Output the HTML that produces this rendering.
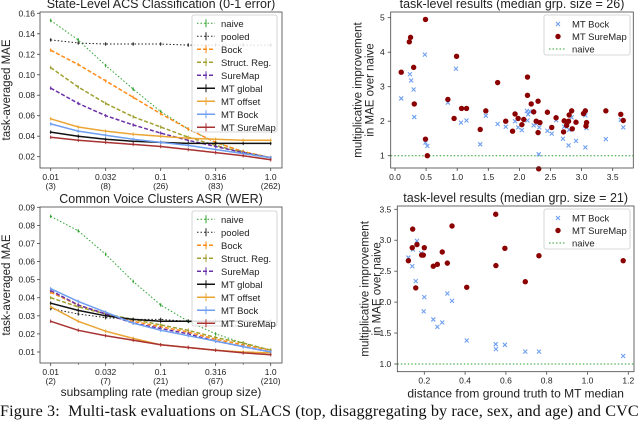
<!DOCTYPE html>
<html><head><meta charset="utf-8"><style>
html,body{margin:0;padding:0;background:#fff;width:640px;height:417px;overflow:hidden}
svg{position:absolute;left:0;top:0}
text{font-family:"Liberation Sans","DejaVu Sans",sans-serif;fill:#222}
#cap{position:absolute;left:0;top:402px;white-space:nowrap;font-family:"Liberation Serif",serif;font-size:16.2px;color:#111;letter-spacing:0.1px}
</style></head><body>
<svg id="chart" width="640" height="417"></svg>
<div id="cap">Figure 3:&nbsp; Multi-task evaluations on SLACS (top, disaggregating by race, sex, and age) and CVC</div>
<script>
// ---------- data ----------
const rates = [0.01,0.0178,0.0316,0.0562,0.1,0.178,0.316,0.562,1.0];
const xTickVals = [0.01,0.0316,0.1,0.316,1.0];
const xTickTop = ["0.01","0.032","0.1","0.316","1.0"];
const acsSizes = ["(3)","(8)","(26)","(83)","(262)"];
const cvcSizes = ["(2)","(7)","(21)","(67)","(210)"];
const seriesNames = ["naive","pooled","Bock","Struct. Reg.","SureMap","MT global","MT offset","MT Bock","MT SureMap"];
const acsNaive = [0.153,0.134,0.109,0.086,0.064,0.047,0.034,0.025,0.019];
const acsPooled = [0.134,0.131,0.130,0.130,0.130,0.129,0.129,0.129,0.129];
const acsBock = [0.124,0.110,0.094,0.078,0.062,0.047,0.034,0.025,0.019];
const acsStruct = [0.107,0.088,0.072,0.059,0.049,0.039,0.031,0.024,0.019];
const acsSure = [0.087,0.072,0.060,0.051,0.043,0.036,0.030,0.024,0.019];
const acsMTglobal = [0.044,0.040,0.037,0.035,0.034,0.033,0.033,0.033,0.033];
const acsMToffset = [0.057,0.049,0.045,0.042,0.040,0.038,0.037,0.036,0.036];
const acsMTbock = [0.052,0.045,0.041,0.037,0.034,0.031,0.027,0.023,0.019];
const acsMTsure = [0.039,0.036,0.034,0.032,0.030,0.027,0.024,0.021,0.017];
const cvcNaive = [0.085,0.077,0.064,0.049,0.036,0.027,0.020,0.015,0.011];
const cvcPooled = [0.034,0.031,0.029,0.028,0.028,0.027,0.027,0.027,0.027];
const cvcBock = [0.043,0.036,0.031,0.027,0.024,0.021,0.017,0.014,0.011];
const cvcStruct = [0.040,0.035,0.031,0.028,0.025,0.022,0.018,0.015,0.011];
const cvcSure = [0.044,0.036,0.031,0.026,0.023,0.020,0.016,0.013,0.010];
const cvcMTglobal = [0.037,0.033,0.030,0.028,0.027,0.027,0.027,0.027,0.027];
const cvcMToffset = [0.035,0.027,0.0215,0.0175,0.014,0.0125,0.011,0.010,0.0095];
const cvcMTbock = [0.045,0.038,0.032,0.026,0.022,0.019,0.016,0.013,0.010];
const cvcMTsure = [0.027,0.022,0.019,0.0165,0.014,0.0125,0.011,0.0095,0.0085];
const acsYTicks = [0.02,0.04,0.06,0.08,0.10,0.12,0.14,0.16];
const cvcYTicks = [0.01,0.02,0.03,0.04,0.05,0.06,0.07,0.08,0.09];
const s1BockX = [0.1,0.24,0.26,0.3,0.31,0.48,0.49,0.52,0.85,0.98,1.06,1.15,1.37,1.46,1.65,1.78,1.93,1.98,2.04,2.12,2.14,2.17,2.13,2.23,2.29,2.32,2.31,2.45,2.52,2.59,2.70,2.72,2.79,2.80,2.84,2.91,3.06,3.06,3.08,3.39,3.63,3.67];
const s1BockY = [2.66,3.36,3.18,2.92,2.12,3.93,1.38,1.28,2.54,3.52,1.96,2.02,1.33,2.16,1.92,1.84,2.0,1.82,1.74,2.30,2.2,2.28,2.02,1.88,1.94,1.82,1.04,1.72,1.64,2.03,1.49,1.84,1.30,1.75,2.11,1.43,1.24,2.17,1.80,1.48,2.04,1.82];
const s1SureX = [0.1,0.23,0.25,0.3,0.31,0.49,0.49,0.52,0.85,0.95,0.99,1.07,1.15,1.37,1.46,1.65,1.78,1.89,1.93,1.98,2.04,2.07,2.13,2.13,2.19,2.23,2.27,2.30,2.30,2.33,2.31,2.45,2.52,2.59,2.71,2.72,2.76,2.79,2.80,2.84,2.85,2.91,3.03,3.06,3.07,3.08,3.39,3.63,3.67];
const s1SureY = [3.42,4.3,4.43,3.56,2.5,4.95,1.48,1.0,2.63,2.08,3.88,2.37,2.37,1.76,2.30,3.12,2.0,1.71,2.21,2.08,1.9,2.05,3.28,2.75,2.5,2.27,2.0,2.58,1.67,1.96,0.62,2.26,1.82,2.1,1.69,2.01,1.88,2.0,2.18,2.3,1.78,1.97,2.22,2.30,1.86,1.96,2.30,2.20,2.02];
const s2BockX = [0.122,0.141,0.144,0.164,0.158,0.185,0.2,0.197,0.244,0.264,0.288,0.313,0.336,0.408,0.55,0.551,0.595,0.695,0.762,1.175];
const s2BockY = [2.72,2.58,2.85,2.99,2.34,2.79,2.08,1.85,1.72,1.60,1.67,2.14,2.02,1.38,1.32,1.24,1.31,1.20,1.20,1.13];
const s2SureX = [0.122,0.143,0.141,0.158,0.164,0.187,0.195,0.2,0.244,0.264,0.288,0.313,0.336,0.408,0.55,0.551,0.595,0.695,0.762,1.175];
const s2SureY = [2.67,3.18,2.88,2.23,2.93,2.76,2.76,2.88,2.58,2.61,2.81,2.63,3.23,2.24,3.42,2.59,2.87,2.33,2.75,2.67];
const s1XTicks = [0.0,0.5,1.0,1.5,2.0,2.5,3.0,3.5];
const s1XLabels = ["0.0","0.5","1.0","1.5","2.0","2.5","3.0","3.5"];
const s1YTicks = [1,2,3,4,5];
const s2XTicks = [0.2,0.4,0.6,0.8,1.0,1.2];
const s2XLabels = ["0.2","0.4","0.6","0.8","1.0","1.2"];
const s2YTicks = [1.0,1.5,2.0,2.5,3.0,3.5];
const s2YLabels = ["1.0","1.5","2.0","2.5","3.0","3.5"];

// ---------- helpers ----------
const NS="http://www.w3.org/2000/svg";
const svg=document.getElementById('chart');
function mk(tag,attrs,parent,txt){const e=document.createElementNS(NS,tag);for(const k in attrs)e.setAttribute(k,attrs[k]);if(txt!==undefined)e.textContent=txt;(parent||svg).appendChild(e);return e;}
const styles=[
 {c:"#2ca02c",d:"1.5,2",w:1},{c:"#222",d:"1.5,2",w:1},{c:"#ff8c1a",d:"4,2",w:1.5},{c:"#a0a030",d:"4,2",w:1.5},
 {c:"#6a30a8",d:"4,2",w:1.5},{c:"#111",d:"",w:1.5},{c:"#eaa535",d:"",w:1.5},{c:"#6f9ff0",d:"",w:1.5},{c:"#a83232",d:"",w:1.5}];
const frame={stroke:"#444","stroke-width":0.8,fill:"none"};

function linePanel(box,ymin,ymax,yTicks,dataSets,sizes,title,legendBox,prefix,showXLabel){
  const g=mk('g',{});
  
  
  const lx0=Math.log10(0.01),lx1=Math.log10(1.0);
  const X=v=>box.xa+(Math.log10(v)-lx0)/(lx1-lx0)*(box.xb-box.xa);
  const Y=v=>box.ya-(v-ymin)/(ymax-ymin)*(box.ya-box.yb);
  const t=mk('text',{x:(box.x0+box.x1)/2,y:box.y0-4,'text-anchor':'middle','font-size':12.5},g,title);
  
  yTicks.forEach(v=>{const y=Y(v);mk('line',{x1:box.x0-3,x2:box.x0,y1:y,y2:y,stroke:"#444","stroke-width":0.8},g);
    const l=mk('text',{x:box.x0-5,y:y+3,'text-anchor':'end','font-size':8.5},g,v.toFixed(2));
    });
  xTickVals.forEach((v,i)=>{const x=X(v);mk('line',{x1:x,x2:x,y1:box.y1,y2:box.y1+3,stroke:"#444","stroke-width":0.8},g);
    const l=mk('text',{x:x,y:box.y1+12,'text-anchor':'middle','font-size':8.5},g,xTickTop[i]);
    
    const s=mk('text',{x:x,y:box.y1+21,'text-anchor':'middle','font-size':8.5},g,sizes[i]);
    });
  rates.forEach((v,i)=>{if(xTickVals.indexOf(v)<0){const x=X(v);mk('line',{x1:x,x2:x,y1:box.y1,y2:box.y1+2,stroke:"#444","stroke-width":0.6},g);}});
  const yl=mk('text',{x:0,y:0,'text-anchor':'middle','font-size':11.5,transform:`translate(${box.x0-30},${(box.y0+box.y1)/2}) rotate(-90)`},g,"task-averaged MAE");
  
  if(showXLabel){const xl=mk('text',{x:(box.x0+box.x1)/2,y:box.y1+33,'text-anchor':'middle','font-size':12},g,"subsampling rate (median group size)");
    }
  dataSets.forEach((arr,si)=>{const st=styles[si];
    const pts=arr.map((v,i)=>X(rates[i]).toFixed(1)+","+Y(v).toFixed(1)).join(" ");
    const p=mk('polyline',{points:pts,fill:"none",stroke:st.c,'stroke-width':st.w,'stroke-dasharray':st.d},g);
    
    
    arr.forEach((v,i)=>{const x=X(rates[i]),y=Y(v);mk('line',{x1:x,x2:x,y1:y-1.8,y2:y+1.8,stroke:st.c,'stroke-width':0.9},g);
      mk('circle',{cx:x,cy:y,r:0.9,fill:st.c},g);});
  });
  mk('rect',{x:box.x0,y:box.y0,width:box.x1-box.x0,height:box.y1-box.y0,...frame},g);
  const lg=mk('g',{});
  mk('rect',{x:legendBox.x,y:legendBox.y,width:legendBox.w,height:legendBox.h,rx:2,fill:"rgba(255,255,255,0.85)",stroke:"#ccc","stroke-width":0.8},lg);
  seriesNames.forEach((n,i)=>{const st=styles[i];const y=legendBox.y+8.3+i*13;
    mk('line',{x1:legendBox.x+5,x2:legendBox.x+23,y1:y,y2:y,stroke:st.c,'stroke-width':st.w,'stroke-dasharray':st.d},lg);
    mk('line',{x1:legendBox.x+14,x2:legendBox.x+14,y1:y-4,y2:y+4,stroke:st.c,'stroke-width':1},lg);
    const e=mk('text',{x:legendBox.x+29,y:y+3.5,'font-size':9.5},lg,n);
    });
}

function scatterPanel(box,xmin,xmax,ymin,ymax,xTicks,xLabels,yTicks,yLabels,bx,by,sx,sy,title,xTitle,prefix){
  const g=mk('g',{});
  const X=v=>box.xa+(v-xmin)/(xmax-xmin)*(box.xb-box.xa);
  const Y=v=>box.ya-(v-ymin)/(ymax-ymin)*(box.ya-box.yb);
  const t=mk('text',{x:(box.x0+box.x1)/2,y:box.y0-4,'text-anchor':'middle','font-size':12.5},g,title);
  
  xTicks.forEach((v,i)=>{const x=X(v);mk('line',{x1:x,x2:x,y1:box.y1,y2:box.y1+3,stroke:"#444","stroke-width":0.8},g);
    const l=mk('text',{x:x,y:box.y1+12,'text-anchor':'middle','font-size':8.5},g,xLabels[i]);
    });
  yTicks.forEach((v,i)=>{const y=Y(v);mk('line',{x1:box.x0-3,x2:box.x0,y1:y,y2:y,stroke:"#444","stroke-width":0.8},g);
    const l=mk('text',{x:box.x0-6,y:y+3,'text-anchor':'end','font-size':8.5},g,yLabels[i]);
    });
  const cy=(box.y0+box.y1)/2;
  const y1=mk('text',{'text-anchor':'middle','font-size':11.5,transform:`translate(${box.x0-29},${cy}) rotate(-90)`},g,"multiplicative improvement");
  
  const y2=mk('text',{'text-anchor':'middle','font-size':11.5,transform:`translate(${box.x0-17},${cy}) rotate(-90)`},g,"in MAE over naive");
  
  if(xTitle){const xl=mk('text',{x:(box.x0+box.x1)/2,y:box.y1+26,'text-anchor':'middle','font-size':12},g,xTitle);
    }
  const nl=mk('line',{x1:box.x0,x2:box.x1,y1:Y(1),y2:Y(1),stroke:"#2ca02c",'stroke-width':1,'stroke-dasharray':"1.5,2"},g);
  
  bx.forEach((v,i)=>{const x=X(v),y=Y(by[i]);const p=mk('path',{d:`M${x-2},${y-2}L${x+2},${y+2}M${x-2},${y+2}L${x+2},${y-2}`,stroke:"#6f9ff0",'stroke-width':1.1},g);
    });
  sx.forEach((v,i)=>{const c=mk('circle',{cx:X(v),cy:Y(sy[i]),r:2.7,fill:"#8b0000"},g);
    });
  mk('rect',{x:box.x0,y:box.y0,width:box.x1-box.x0,height:box.y1-box.y0,...frame},g);
  const lg=mk('g',{});
  mk('rect',{x:544,y:box.y0+3,width:86,height:40,rx:2,fill:"rgba(255,255,255,0.85)",stroke:"#ccc","stroke-width":0.8},lg);
  const ly=box.y0+12;
  mk('path',{d:`M${556},${ly-2}L${560},${ly+2}M${556},${ly+2}L${560},${ly-2}`,stroke:"#6f9ff0",'stroke-width':1.1},lg);
  mk('circle',{cx:558,cy:ly+12.5,r:2.7,fill:"#8b0000"},lg);
  mk('line',{x1:549,x2:566,y1:ly+25,y2:ly+25,stroke:"#2ca02c",'stroke-width':1,'stroke-dasharray':"1.5,2"},lg);
  ["MT Bock","MT SureMap","naive"].forEach((n,i)=>{const e=mk('text',{x:572,y:ly+3.5+i*12.5,'font-size':9.5},lg,n);
    });
}

linePanel({x0:40,x1:282,y0:12,y1:168,xa:50.7,xb:270.7,ya:156.7,yb:13.3},0.02,0.16,acsYTicks,
  [acsNaive,acsPooled,acsBock,acsStruct,acsSure,acsMTglobal,acsMToffset,acsMTbock,acsMTsure],acsSizes,
  "State-Level ACS Classification (0-1 error)",{x:192,y:15,w:85,h:117},"acs",false);
linePanel({x0:40,x1:282,y0:207,y1:363,xa:50.7,xb:270.7,ya:352,yb:207.3},0.01,0.09,cvcYTicks,
  [cvcNaive,cvcPooled,cvcBock,cvcStruct,cvcSure,cvcMTglobal,cvcMToffset,cvcMTbock,cvcMTsure],cvcSizes,
  "Common Voice Clusters ASR (WER)",{x:192,y:211,w:85,h:115},"cvc",true);
scatterPanel({x0:390.7,x1:633.3,y0:12,y1:168,xa:395,xb:612.7,ya:155.7,yb:17.7},0,3.5,1,5,
  s1XTicks,s1XLabels,s1YTicks,s1YTicks.map(String),s1BockX,s1BockY,s1SureX,s1SureY,
  "task-level results (median grp. size = 26)",null,"acs-scatter");
scatterPanel({x0:397.3,x1:634,y0:206,y1:371.7,xa:424.3,xb:628.3,ya:364,yb:209.3},0.2,1.2,1.0,3.5,
  s2XTicks,s2XLabels,s2YTicks,s2YLabels,s2BockX,s2BockY,s2SureX,s2SureY,
  "task-level results (median grp. size = 21)","distance from ground truth to MT median","cvc-scatter");
</script>
</body></html>
